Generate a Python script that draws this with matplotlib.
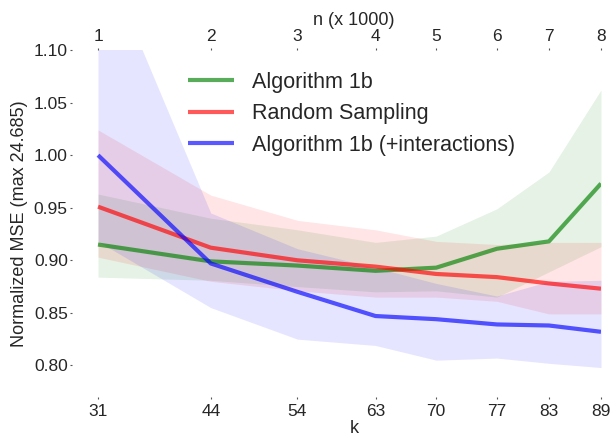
import matplotlib
matplotlib.use("Agg")
import matplotlib.pyplot as plt

plt.rcParams['font.family'] = ['Liberation Sans', 'DejaVu Sans']
TXT = '#262626'

k_vals = [31, 44, 54, 63, 70, 77, 83, 89]
n_labels = ['1', '2', '3', '4', '5', '6', '7', '8']

alg1b = [0.915, 0.899, 0.895, 0.890, 0.893, 0.911, 0.918, 0.973]
alg1b_lo = [0.884, 0.881, 0.875, 0.870, 0.871, 0.865, 0.889, 0.913]
alg1b_hi = [0.963, 0.940, 0.929, 0.917, 0.923, 0.949, 0.984, 1.062]

rand = [0.951, 0.912, 0.900, 0.894, 0.887, 0.884, 0.878, 0.873]
rand_lo = [0.903, 0.880, 0.871, 0.865, 0.865, 0.861, 0.849, 0.849]
rand_hi = [1.024, 0.962, 0.938, 0.929, 0.918, 0.915, 0.917, 0.917]

inter = [1.000, 0.897, 0.870, 0.847, 0.844, 0.839, 0.838, 0.832]
inter_lo = [0.918, 0.855, 0.825, 0.819, 0.805, 0.807, 0.802, 0.798]
inter_hi = [1.200, 0.945, 0.911, 0.893, 0.878, 0.866, 0.880, 0.881]

y_ticks = [0.80, 0.85, 0.90, 0.95, 1.00, 1.05, 1.10]

fig = plt.figure(figsize=(6.13, 4.37), dpi=100)
ax = fig.add_axes([72/613, 1 - 397/437, 529/613, 347/437])

series = [
    ('Algorithm 1b', alg1b, alg1b_lo, alg1b_hi, 'green'),
    ('Random Sampling', rand, rand_lo, rand_hi, 'red'),
    ('Algorithm 1b (+interactions)', inter, inter_lo, inter_hi, 'blue'),
]
for label, m, lo, hi, c in series:
    ax.fill_between(k_vals, lo, hi, color=c, alpha=0.1, linewidth=0)
for label, m, lo, hi, c in series:
    ax.plot(k_vals, m, color=c, alpha=0.65, linewidth=3, label=label, solid_capstyle='butt')

ax.set_xlim(28, 89)
ax.set_ylim(0.77, 1.10)
ax.set_xticks(k_vals)
ax.set_xticklabels([str(v) for v in k_vals])
ax.set_yticks(y_ticks)
ax.set_yticklabels(['%.2f' % v for v in y_ticks])
for s in ax.spines.values():
    s.set_visible(False)
ax.tick_params(axis='both', length=1.5, width=0.8, color='#555555', labelsize=12.5, labelcolor=TXT)
ax.tick_params(axis='x', pad=3.5)
ax.tick_params(axis='y', pad=1.5)
ax.set_xlabel('k', fontsize=13, color=TXT)
ax.xaxis.set_label_coords(0.533, -0.067)
ax.set_ylabel('Normalized MSE (max 24.685)', fontsize=13, color=TXT)
ax.yaxis.set_label_coords(-0.083, 0.5)

ax2 = ax.twiny()
ax2.set_xlim(ax.get_xlim())
ax2.set_xticks(k_vals)
ax2.set_xticklabels(n_labels)
for s in ax2.spines.values():
    s.set_visible(False)
ax2.tick_params(axis='x', length=1.5, width=0.8, color='#555555', labelsize=12.5, labelcolor=TXT, pad=3)
ax2.set_xlabel('n (x 1000)', fontsize=13, color=TXT)
ax2.xaxis.set_label_coords(0.533, 1.071)

leg = ax.legend(loc='upper left', bbox_to_anchor=(0.219, 0.938), frameon=False,
                fontsize=15.5, handlelength=2.13, handletextpad=0.84, labelspacing=0.49,
                borderpad=0, borderaxespad=0)
for t in leg.get_texts():
    t.set_color(TXT)

fig.savefig('out.png', dpi=100)
